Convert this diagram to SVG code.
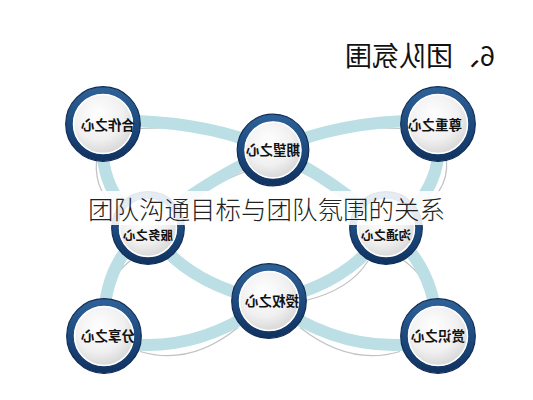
<svg xmlns="http://www.w3.org/2000/svg" width="533" height="400" viewBox="0 0 533 400">
  <defs>
    <linearGradient id="ringGrad" x1="0" y1="0" x2="0" y2="1">
      <stop offset="0" stop-color="#2d6096"/>
      <stop offset="0.5" stop-color="#1d4a7e"/>
      <stop offset="1" stop-color="#123463"/>
    </linearGradient>
    <radialGradient id="faceGrad" cx="0.42" cy="0.35" r="0.7">
      <stop offset="0" stop-color="#ffffff"/>
      <stop offset="0.6" stop-color="#f0f0f0"/>
      <stop offset="1" stop-color="#d4d4d4"/>
    </radialGradient>
    <style>
      .band { fill: none; stroke: #bbdfe4; stroke-width: 12; stroke-linecap: round; }
      .shade { fill: none; stroke: #bfc3c5; stroke-width: 1.2; }
      .outer { fill: none; stroke: #102c55; stroke-width: 1.2; }
      .ring { fill: none; stroke: url(#ringGrad); stroke-width: 7.5; }
      .face { fill: url(#faceGrad); stroke: #ffffff; stroke-width: 1.5; }
      .lbl { font-family: "Noto Sans CJK SC", "Noto Sans CJK TC", sans-serif; font-size: 13.5px; font-weight: bold; fill: #111111; text-anchor: middle; }
      .lbl-s { font-size: 12.5px; }
      .head { font-family: "Noto Sans CJK SC", sans-serif; font-size: 27px; fill: #111111; }
      .title { font-family: "Noto Sans CJK SC", sans-serif; font-size: 25.5px; font-weight: 300; fill: #222222; }
    </style>
  </defs>
  <rect width="533" height="400" fill="#ffffff"/>

  <text class="head" transform="scale(-1,1)" x="-495" y="66">6、团队氛围</text>

  <g id="connectors">
    <path class="shade" transform="translate(0,6.5)" d="M140,122 Q200,118 240,137"/>
    <path class="shade" transform="translate(0,6.5)" d="M306,137 Q346,118 400,122"/>
    <path class="shade" transform="translate(-6.5,0)" d="M103,160 Q100,195 130,214"/>
    <path class="shade" transform="translate(6.5,0)" d="M440,160 Q443,195 404,214"/>
    <path class="shade" transform="translate(4,5)" d="M243,166 Q205,180 178,204"/>
    <path class="shade" transform="translate(-4,5)" d="M303,166 Q335,180 358,204"/>
    <path class="shade" transform="translate(6,0)" d="M128,258 Q104,275 102,298"/>
    <path class="shade" transform="translate(-6,0)" d="M406,258 Q432,275 436,298"/>
    <path class="shade" transform="translate(5,-5)" d="M170,256 Q190,285 238,296"/>
    <path class="shade" transform="translate(4,5)" d="M364,256 Q346,285 300,296"/>
    <path class="shade" transform="translate(0,6.5)" d="M140,345 Q190,360 238,321"/>
    <path class="shade" transform="translate(0,6.5)" d="M300,321 Q350,360 400,345"/>

    <path class="band" d="M103,121 Q200,118 273,150"/>
    <path class="band" d="M273,150 Q346,118 438,121"/>
    <path class="band" d="M103,124 Q95,195 148,228"/>
    <path class="band" d="M438,124 Q447,195 386,228"/>
    <path class="band" d="M273,150 Q205,180 148,228"/>
    <path class="band" d="M273,150 Q335,180 386,228"/>
    <path class="band" d="M148,228 Q100,265 104,336"/>
    <path class="band" d="M386,228 Q436,265 438,336"/>
    <path class="band" d="M148,228 Q185,285 269,301"/>
    <path class="band" d="M386,228 Q350,285 269,301"/>
    <path class="band" d="M104,340 Q190,360 269,301"/>
    <path class="band" d="M269,301 Q350,360 438,340"/>
  </g>

  <g id="node-hezuo" transform="translate(103,124)">
    <circle class="ring" r="33.5"/><circle class="outer" r="37.3"/><circle class="face" r="29.5"/>
    <text class="lbl" transform="scale(-1,1)" x="-5" y="6">合作之心</text>
  </g>
  <g id="node-qiwang" transform="translate(273,150)">
    <circle class="ring" r="32"/><circle class="outer" r="35.8"/><circle class="face" r="28"/>
    <text class="lbl" transform="scale(-1,1)" x="0" y="5">期望之心</text>
  </g>
  <g id="node-zunzhong" transform="translate(438,124)">
    <circle class="ring" r="33.5"/><circle class="outer" r="37.3"/><circle class="face" r="29.5"/>
    <text class="lbl" transform="scale(-1,1)" x="3" y="6">尊重之心</text>
  </g>
  <g id="node-fuwu" transform="translate(148,228)">
    <circle class="ring" r="32.5"/><circle class="outer" r="36.3"/><circle class="face" r="28.5"/>
    <text class="lbl lbl-s" transform="scale(-1,1)" x="0" y="12">服务之心</text>
  </g>
  <g id="node-goutong" transform="translate(386,228)">
    <circle class="ring" r="32.5"/><circle class="outer" r="36.3"/><circle class="face" r="28.5"/>
    <text class="lbl lbl-s" transform="scale(-1,1)" x="0" y="12">沟通之心</text>
  </g>
  <g id="node-shouquan" transform="translate(269,301)">
    <circle class="ring" r="33.5"/><circle class="outer" r="37.3"/><circle class="face" r="29.5"/>
    <text class="lbl" transform="scale(-1,1)" x="-3" y="5">授权之心</text>
  </g>
  <g id="node-fenxiang" transform="translate(104,336)">
    <circle class="ring" r="33.5"/><circle class="outer" r="37.3"/><circle class="face" r="29.5"/>
    <text class="lbl" transform="scale(-1,1)" x="-4" y="5">分享之心</text>
  </g>
  <g id="node-shangshi" transform="translate(438,336)">
    <circle class="ring" r="33.5"/><circle class="outer" r="37.3"/><circle class="face" r="29.5"/>
    <text class="lbl" transform="scale(-1,1)" x="0" y="5">赏识之心</text>
  </g>

  <rect x="66" y="191" width="400" height="34" fill="#ffffff" fill-opacity="0.88"/>
  <text class="title" x="88" y="219">团队沟通目标与团队氛围的关系</text>
</svg>
